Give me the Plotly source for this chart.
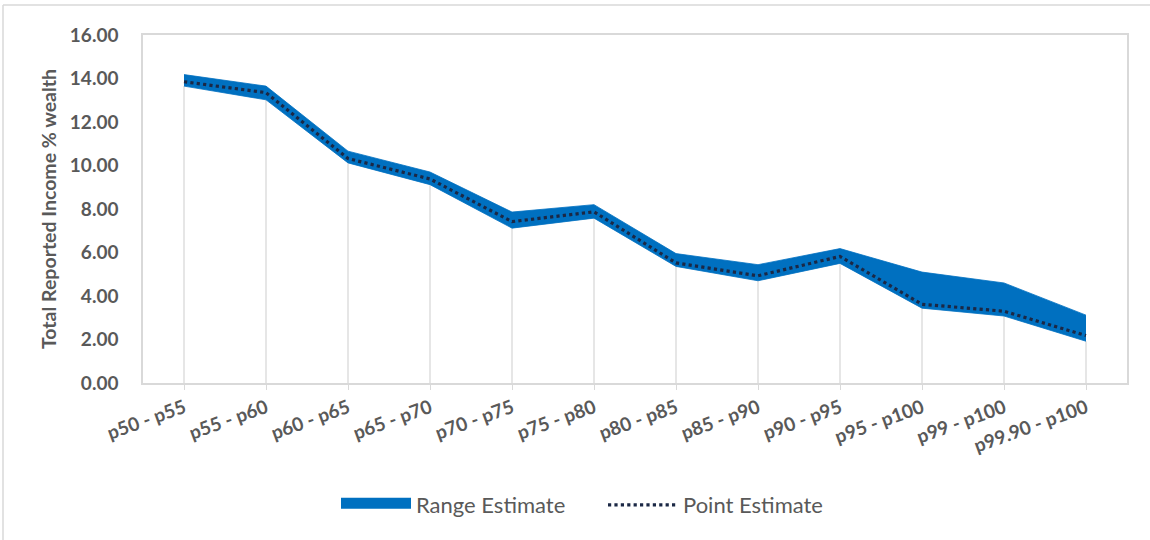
import plotly.graph_objects as go

categories = ["p50 - p55", "p55 - p60", "p60 - p65", "p65 - p70", "p70 - p75", "p75 - p80",
              "p80 - p85", "p85 - p90", "p90 - p95", "p95 - p100", "p99 - p100", "p99.90 - p100"]
range_low = [13.65, 13.02, 10.12, 9.12, 7.12, 7.58, 5.36, 4.70, 5.50, 3.44, 3.08, 1.92]
range_high = [14.18, 13.65, 10.66, 9.70, 7.86, 8.20, 5.95, 5.44, 6.18, 5.10, 4.60, 3.12]
point_est = [13.85, 13.35, 10.32, 9.38, 7.42, 7.87, 5.52, 4.93, 5.82, 3.62, 3.30, 2.18]
y_ticks = [0, 2, 4, 6, 8, 10, 12, 14, 16]

W, H = 1150, 540
# plot area in page pixels: left 143, right 1127, top 35, bottom 383
ML, MT = 143, 35
MR, MB = W - 1127, H - 383
PW, PH = W - ML - MR, H - MT - MB

def px_x(p):
    return (p - ML) / PW

def px_y(p):
    return (H - MB - p) / PH

idx = list(range(len(categories)))
BLUE = "#0070C0"

# drop lines from the axis to each range value
drop_x, drop_y = [], []
for i, lo in zip(idx, range_low):
    drop_x += [i, i, None]
    drop_y += [0, lo, None]

fig = go.Figure()
fig.add_trace(go.Scatter(x=drop_x, y=drop_y, mode="lines",
                         line=dict(color="#d9d9d9", width=1.3),
                         showlegend=False, hoverinfo="skip"))
fig.add_trace(go.Scatter(x=idx, y=range_low, mode="lines",
                         line=dict(color=BLUE, width=0.8),
                         showlegend=False, hoverinfo="skip"))
fig.add_trace(go.Scatter(x=idx, y=range_high, mode="lines", fill="tonexty",
                         fillcolor=BLUE, line=dict(color=BLUE, width=0.8),
                         name="Range Estimate", showlegend=False))
# legend entry for the range band (thicker swatch)
fig.add_trace(go.Scatter(x=[None], y=[None], mode="lines", fill="toself",
                         fillcolor=BLUE, line=dict(color=BLUE, width=10),
                         name="Range Estimate"))
fig.add_trace(go.Scatter(x=idx, y=point_est, mode="lines",
                         line=dict(color="#1b2845", width=3.2, dash="dot"),
                         name="Point Estimate"))

font_family = "Lato, Open Sans, sans-serif"
fig.update_layout(
    width=W, height=H,
    margin=dict(l=ML, r=MR, t=MT, b=MB),
    paper_bgcolor="white", plot_bgcolor="white",
    font=dict(family=font_family, color="#595959"),
    showlegend=True,
    legend=dict(orientation="h", x=px_x(336), xanchor="left",
                y=px_y(505), yanchor="middle",
                font=dict(size=22, color="#595959", family=font_family),
                itemwidth=70, entrywidth=182, entrywidthmode="pixels",
                traceorder="normal", bgcolor="rgba(0,0,0,0)"),
    xaxis=dict(range=[-0.5, len(categories) - 0.5],
               tickmode="array", tickvals=idx, ticktext=categories,
               tickangle=-20, showgrid=False, zeroline=False,
               showline=True, mirror=True, linecolor="#d9d9d9", linewidth=1.5,
               ticks="outside", ticklen=5, tickcolor="#d9d9d9",
               tickfont=dict(size=19, color="#595959", family=font_family, weight="bold")),
    yaxis=dict(range=[0, 16], tickmode="array", tickvals=y_ticks,
               ticktext=[f"{v:.2f}" for v in y_ticks],
               showgrid=False, zeroline=False,
               showline=True, mirror=True, linecolor="#d9d9d9", linewidth=1.5,
               ticks="", ticklabelstandoff=19,
               tickfont=dict(size=19, color="#595959", family=font_family, weight="bold"),
               title=dict(text="Total Reported Income % wealth", standoff=8,
                          font=dict(size=19.5, color="#595959", family=font_family, weight="bold"))),
    shapes=[
        dict(type="line", xref="paper", yref="paper", x0=px_x(3), x1=px_x(1160), y0=px_y(5), y1=px_y(5),
             line=dict(color="#d9d9d9", width=1.5)),
        dict(type="line", xref="paper", yref="paper", x0=px_x(3), x1=px_x(3), y0=px_y(5), y1=px_y(560),
             line=dict(color="#d9d9d9", width=1.5)),
    ],
)

fig.write_html("out.html", config={"displayModeBar": False},
               post_script="document.body.style.margin='0px';")
